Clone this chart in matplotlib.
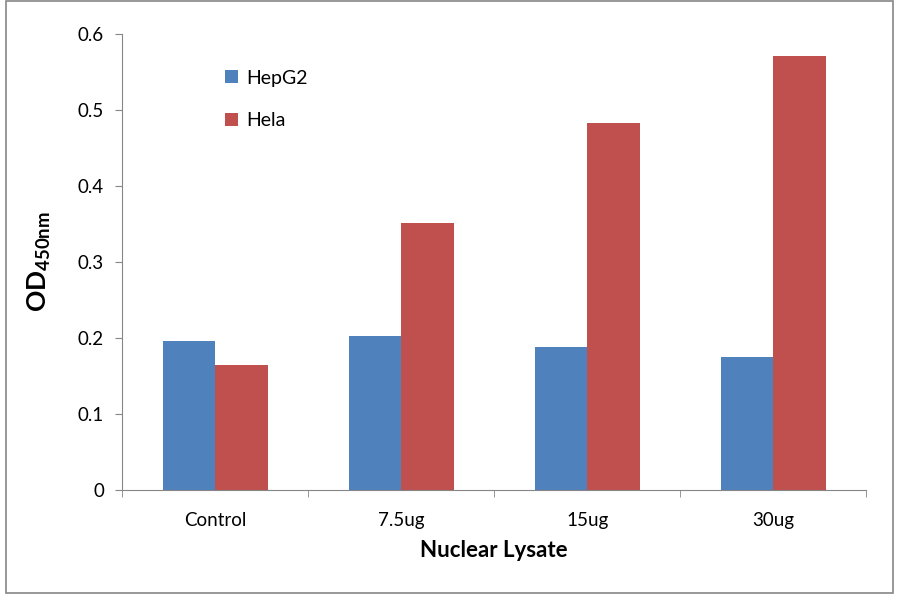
import numpy as np
import matplotlib
matplotlib.use("Agg")
import matplotlib.pyplot as plt
from matplotlib.patches import Rectangle

categories = ["Control", "7.5ug", "15ug", "30ug"]
hepg2 = [0.196, 0.203, 0.188, 0.175]
hela = [0.164, 0.351, 0.483, 0.571]
y_ticks = [0, 0.1, 0.2, 0.3, 0.4, 0.5, 0.6]

plt.rcParams['font.family'] = ['Lato', 'DejaVu Sans']
plt.rcParams['mathtext.fontset'] = 'custom'
plt.rcParams['mathtext.rm'] = 'Lato'
plt.rcParams['mathtext.bf'] = 'Lato:bold'

grey = '#868686'

fig = plt.figure(figsize=(9, 5.94), dpi=100)
ax = fig.add_axes([0.1356, 0.175, 0.827, 0.768])

x = np.arange(len(categories))
w = 0.282
ax.bar(x - w / 2, hepg2, w, color='#4F81BD', label='HepG2')
ax.bar(x + w / 2, hela, w, color='#C0504D', label='Hela')

ax.set_xlim(-0.5, len(categories) - 0.5)
ax.set_ylim(0, 0.6)
ax.set_yticks(y_ticks)
ax.set_yticklabels(["0" if v == 0 else str(v) for v in y_ticks], fontsize=13.5)
ax.set_xticks(x)
ax.set_xticklabels(categories, fontsize=13.5)
ax.set_xticks(np.arange(len(categories) + 1) - 0.5, minor=True)
ax.tick_params(axis='x', which='major', length=0, pad=16)
ax.tick_params(axis='x', which='minor', length=5, color=grey, direction='out')
ax.tick_params(axis='y', length=5, color=grey, direction='out', pad=8)

for s in ['top', 'right']:
    ax.spines[s].set_visible(False)
for s in ['left', 'bottom']:
    ax.spines[s].set_color(grey)

ax.set_xlabel("Nuclear Lysate", fontsize=16, fontweight='bold', labelpad=8)
ax.set_ylabel(r"$\mathbf{OD_{450nm}}$", fontsize=19, labelpad=18)

ax.legend(frameon=False, loc='upper left', bbox_to_anchor=(0.115, 0.96),
          handlelength=0.65, handleheight=0.65, handletextpad=0.45,
          labelspacing=1.3, fontsize=14)

fig.patches.append(Rectangle((6 / 900, 1 / 594), 887 / 900, 592 / 594,
                             transform=fig.transFigure, fill=False,
                             edgecolor=grey, linewidth=1.2))

fig.savefig("out.png", dpi=100)
